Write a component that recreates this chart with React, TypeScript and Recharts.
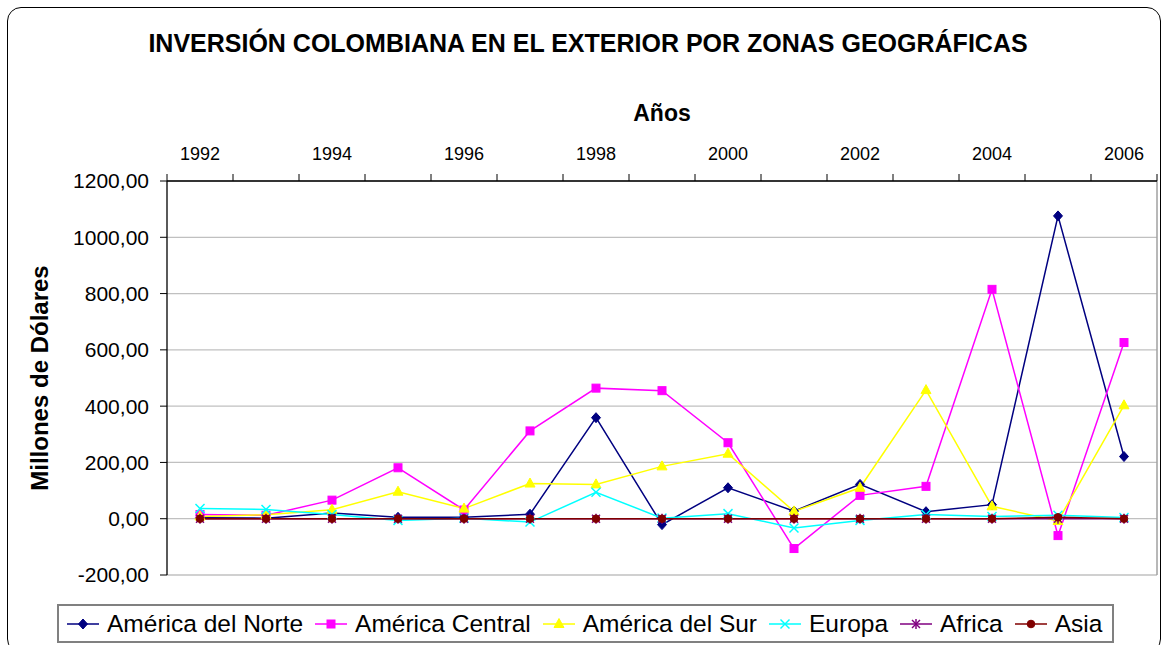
import React from 'react';
import { LineChart, Line, XAxis, YAxis, CartesianGrid, ReferenceLine } from 'recharts';

const years = [1992, 1993, 1994, 1995, 1996, 1997, 1998, 1999, 2000, 2001, 2002, 2003, 2004, 2005, 2006];
const norte = [3, 2, 20, 5, 5, 16, 359, -21, 110, 27, 122, 25, 50, 1076, 221];
const central = [15, 12, 66, 181, 31, 312, 464, 455, 270, -106, 83, 115, 815, -60, 626];
const sur = [8, 14, 32, 96, 36, 125, 122, 186, 231, 26, 110, 457, 44, -8, 403];
const europa = [36, 33, 15, -6, 2, -12, 94, 2, 18, -33, -6, 15, 8, 12, 4];
const africa = [0, 0, 0, 0, 0, 0, 0, 0, 0, 0, 0, 0, 0, 0, 0];
const asia = [0, 0, 0, 0, 0, 0, 0, 0, 0, 0, 0, 0, 0, 5, 0];
const yTicks = [-200, 0, 200, 400, 600, 800, 1000, 1200];
const xLabelYears = [1992, 1994, 1996, 1998, 2000, 2002, 2004, 2006];

const data = years.map((y, i) => ({
  year: y,
  norte: norte[i],
  central: central[i],
  sur: sur[i],
  europa: europa[i],
  africa: africa[i],
  asia: asia[i],
}));

const FONT = "'Liberation Sans', Arial, Helvetica, sans-serif";
const W = 1169;
const H = 645;
const PLOT_LEFT = 167;
const PLOT_RIGHT = 1157;
const PLOT_TOP = 181;
const PLOT_BOTTOM = 575;
const HALF = (PLOT_RIGHT - PLOT_LEFT) / years.length / 2;

type Shape = 'diamond' | 'square' | 'triangle' | 'x' | 'star' | 'circle';

function Marker({ shape, color, cx, cy }: { shape: Shape; color: string; cx: number; cy: number }) {
  switch (shape) {
    case 'diamond':
      return <polygon points={`${cx},${cy - 5} ${cx + 4.5},${cy} ${cx},${cy + 5} ${cx - 4.5},${cy}`} fill={color} stroke={color} />;
    case 'square':
      return <rect x={cx - 4} y={cy - 4} width={8} height={8} fill={color} stroke={color} />;
    case 'triangle':
      return <polygon points={`${cx},${cy - 5.5} ${cx + 5},${cy + 3.5} ${cx - 5},${cy + 3.5}`} fill={color} stroke={color} />;
    case 'x':
      return (
        <g stroke={color} strokeWidth={1.5}>
          <line x1={cx - 4.5} y1={cy - 4.5} x2={cx + 4.5} y2={cy + 4.5} />
          <line x1={cx - 4.5} y1={cy + 4.5} x2={cx + 4.5} y2={cy - 4.5} />
        </g>
      );
    case 'star':
      return (
        <g stroke={color} strokeWidth={1.5}>
          <line x1={cx - 4} y1={cy - 4} x2={cx + 4} y2={cy + 4} />
          <line x1={cx - 4} y1={cy + 4} x2={cx + 4} y2={cy - 4} />
          <line x1={cx} y1={cy - 5} x2={cx} y2={cy + 5} />
        </g>
      );
    default:
      return <circle cx={cx} cy={cy} r={3.8} fill={color} stroke={color} />;
  }
}

const makeDot = (shape: Shape, color: string) => (props: any) => {
  const { cx, cy, index } = props;
  if (cx == null || cy == null) return <g key={`d-${shape}-${index}`} />;
  return (
    <g key={`d-${shape}-${index}`}>
      <Marker shape={shape} color={color} cx={cx} cy={cy} />
    </g>
  );
};

const series: { key: string; name: string; color: string; shape: Shape }[] = [
  { key: 'norte', name: 'América del Norte', color: '#000080', shape: 'diamond' },
  { key: 'central', name: 'América Central', color: '#FF00FF', shape: 'square' },
  { key: 'sur', name: 'América del Sur', color: '#FFFF00', shape: 'triangle' },
  { key: 'europa', name: 'Europa', color: '#00FFFF', shape: 'x' },
  { key: 'africa', name: 'Africa', color: '#800080', shape: 'star' },
  { key: 'asia', name: 'Asia', color: '#800000', shape: 'circle' },
];

const XTick = (props: any) => {
  const { x, payload, index } = props;
  const yr = payload.value as number;
  const last = yr === years[years.length - 1];
  return (
    <g>
      {xLabelYears.includes(yr) && (
        <text x={x} y={160} textAnchor="middle" fontSize={18} fontFamily={FONT} fill="#000">
          {yr}
        </text>
      )}
      <line x1={x - HALF} y1={PLOT_TOP} x2={x - HALF} y2={PLOT_TOP - 7} stroke="#000" strokeWidth={1} />
      {last && <line x1={x + HALF} y1={PLOT_TOP} x2={x + HALF} y2={PLOT_TOP - 7} stroke="#000" strokeWidth={1} />}
      <title>{index}</title>
    </g>
  );
};

const fmt = (v: number) => v.toFixed(2).replace('.', ',');

export default function App() {
  return (
    <div style={{ position: 'absolute', left: 0, top: 0, width: W, height: H, background: '#fff', fontFamily: FONT, overflow: 'hidden' }}>
      <div
        style={{
          position: 'absolute',
          left: 7,
          top: 7,
          width: 1154,
          height: 646,
          border: '1.5px solid #000',
          borderRadius: 14,
          boxSizing: 'border-box',
        }}
      />
      <div style={{ position: 'absolute', left: 0, top: 28, width: 1176, textAlign: 'center', fontSize: 25, fontWeight: 'bold', lineHeight: '30px' }}>
        INVERSIÓN COLOMBIANA EN EL EXTERIOR POR ZONAS GEOGRÁFICAS
      </div>
      <div style={{ position: 'absolute', left: PLOT_LEFT, top: 98, width: PLOT_RIGHT - PLOT_LEFT, textAlign: 'center', fontSize: 23, fontWeight: 'bold', lineHeight: '30px' }}>
        Años
      </div>
      <div
        style={{
          position: 'absolute',
          left: 40 - 150,
          top: 378 - 15,
          width: 300,
          height: 30,
          lineHeight: '30px',
          textAlign: 'center',
          fontSize: 24,
          fontWeight: 'bold',
          transform: 'rotate(-90deg)',
        }}
      >
        Millones de Dólares
      </div>
      <div style={{ position: 'absolute', left: 0, top: 0 }}>
        <LineChart
          width={W}
          height={H}
          data={data}
          margin={{ top: PLOT_TOP - 40, right: W - PLOT_RIGHT, bottom: H - PLOT_BOTTOM, left: 0 }}
        >
          <CartesianGrid vertical={false} stroke="#c0c0c0" strokeWidth={1.3} />
          <XAxis
            dataKey="year"
            type="number"
            orientation="top"
            height={40}
            domain={[years[0] - 0.5, years[years.length - 1] + 0.5]}
            ticks={years}
            interval={0}
            tick={<XTick />}
            tickLine={false}
            axisLine={{ stroke: '#000', strokeWidth: 1.3 }}
          />
          <YAxis
            type="number"
            width={PLOT_LEFT}
            domain={[-200, 1200]}
            ticks={yTicks}
            interval={0}
            tickFormatter={fmt}
            tickSize={7}
            tickMargin={11}
            tick={{ fontSize: 21, fill: '#000', fontFamily: FONT }}
            tickLine={{ stroke: '#000' }}
            axisLine={{ stroke: '#000', strokeWidth: 1.3 }}
          />
          <ReferenceLine x={years[years.length - 1] + 0.5} stroke="#a0a0a0" strokeWidth={1.5} />
          {series.map((s) => (
            <Line
              key={s.key}
              dataKey={s.key}
              name={s.name}
              stroke={s.color}
              strokeWidth={1.5}
              dot={makeDot(s.shape, s.color)}
              activeDot={false}
              isAnimationActive={false}
            />
          ))}
        </LineChart>
      </div>
      <div
        style={{
          position: 'absolute',
          left: 57,
          top: 604,
          width: 1057,
          height: 39,
          border: '2px solid #808080',
          boxSizing: 'border-box',
          display: 'flex',
          alignItems: 'center',
          paddingLeft: 8,
          fontSize: 24.5,
          whiteSpace: 'nowrap',
        }}
      >
        {series.map((s) => (
          <div key={s.key} style={{ display: 'flex', alignItems: 'center', marginRight: 12 }}>
            <svg width={32} height={14} style={{ marginRight: 8 }}>
              <line x1={0} y1={7} x2={32} y2={7} stroke={s.color} strokeWidth={1.5} />
              <Marker shape={s.shape} color={s.color} cx={16} cy={7} />
            </svg>
            <span>{s.name}</span>
          </div>
        ))}
      </div>
    </div>
  );
}
